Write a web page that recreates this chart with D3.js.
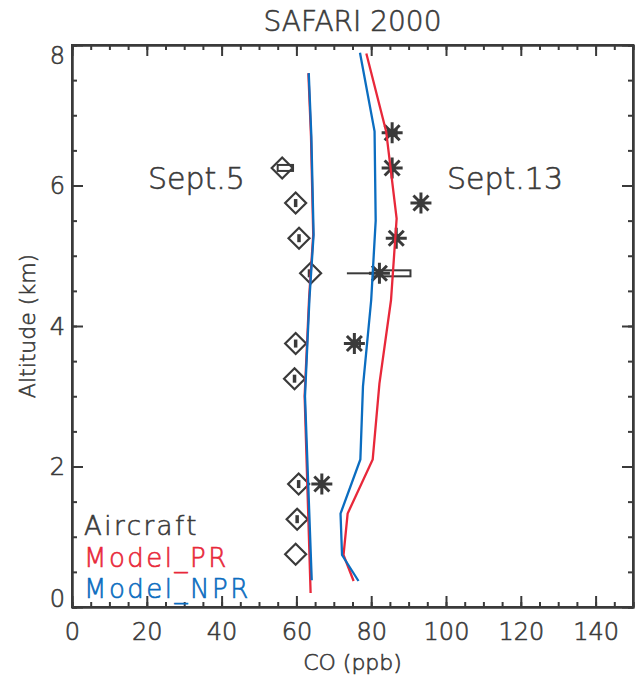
<!DOCTYPE html>
<meta charset="utf-8">
<style>
body { margin: 0; background: #fff; }
text { font-family: "DejaVu Sans", sans-serif; fill: #3a3a3a; font-weight: 300; stroke-width: 0.6px; }
.axis path, .axis line { stroke: #3a3a3a; stroke-width: 2px; }
.axis text { font-size: 24px; fill: #3a3a3a; stroke: #3a3a3a; font-family: "DejaVu Sans", sans-serif; font-weight: 300; }
.model { fill: none; stroke-width: 2.3px; }
.mark { fill: none; stroke: #3a3a3a; }
</style>
<body>
<script src="https://d3js.org/d3.v7.min.js"></script>
<script>

// Aircraft, Sept.5 (diamonds): altitude (km), mean CO, box low/high (ppb)
var alt5 = [6.25, 5.75, 5.25, 4.75, 3.75, 3.25, 1.75, 1.25, 0.75];
var co5 = [56.2, 59.8, 60.7, 63.8, 59.8, 59.5, 60.6, 60.2, 59.8];
var boxLo5 = [55.0, 59.6, 60.5, 63.3, 59.6, 59.3, 60.4, 60.0, 59.8];
var boxHi5 = [59.1, 60.0, 60.9, 63.6, 60.0, 59.7, 60.8, 60.4, 59.8];

// Aircraft, Sept.13 (stars)
var alt13 = [6.75, 6.25, 5.75, 5.25, 4.75, 3.75, 1.75];
var co13 = [85.6, 85.6, 93.3, 86.7, 82.2, 75.5, 66.8];
var boxLo13 = [84.5, 85.2, 93.0, 86.0, 80.5, 75.0, 66.6];
var boxHi13 = [86.8, 86.0, 93.6, 87.4, 90.5, 77.0, 67.0];
var whLo13 = [84.5, 85.2, 93.0, 86.0, 73.5, 75.0, 66.6];
var whHi13 = [86.8, 86.0, 93.6, 87.4, 90.5, 77.0, 67.0];

// Model profiles
var altPR5 = [0.2, 3.0, 4.4, 5.3, 6.7, 7.6];
var coPR5 = [63.8, 62.2, 63.4, 64.5, 63.9, 63.2];
var altNPR5 = [0.38, 3.0, 4.4, 5.3, 6.7, 7.6];
var coNPR5 = [64.1, 62.3, 63.5, 64.6, 64.0, 63.3];

var altPR13 = [0.37, 0.74, 1.33, 2.1, 3.18, 4.37, 5.53, 6.77, 7.88];
var coPR13 = [75.3, 72.6, 73.7, 80.4, 82.2, 85.3, 86.8, 84.0, 78.7];
var altNPR13 = [0.37, 0.74, 1.33, 2.1, 3.14, 4.37, 5.5, 6.77, 7.89];
var coNPR13 = [76.6, 72.2, 71.8, 77.1, 77.8, 80.0, 81.2, 80.9, 77.0];

var xMajor = [0, 20, 40, 60, 80, 100, 120, 140];
var yMajor = [0, 2, 4, 6, 8];

var red = "#e8283a", blue = "#0b6dc0", ink = "#3a3a3a";

var W = 635, H = 676;
var margin = {top: 45, right: 2, bottom: 69, left: 72};

var x = d3.scaleLinear().domain([0, 150]).range([margin.left, W - margin.right]);
var y = d3.scaleLinear().domain([0, 8]).range([H - margin.bottom, margin.top]);

var svg = d3.select("body").append("svg")
    .attr("width", W)
    .attr("height", H);

// minor ticks
var xMinor = d3.range(0, 151, 5), yMinor = d3.range(0, 8.01, 0.5);
svg.append("g").attr("class", "axis")
  .attr("transform", "translate(0," + y(0) + ")")
  .call(d3.axisBottom(x).tickValues(xMinor).tickSize(-5).tickFormat(""));
svg.append("g").attr("class", "axis")
  .attr("transform", "translate(0," + y(8) + ")")
  .call(d3.axisTop(x).tickValues(xMinor).tickSize(-5).tickFormat(""));
svg.append("g").attr("class", "axis")
  .attr("transform", "translate(" + x(0) + ",0)")
  .call(d3.axisLeft(y).tickValues(yMinor).tickSize(-5).tickFormat(""));
svg.append("g").attr("class", "axis")
  .attr("transform", "translate(" + x(150) + ",0)")
  .call(d3.axisRight(y).tickValues(yMinor).tickSize(-5).tickFormat(""));

// major ticks
svg.append("g").attr("class", "axis")
  .attr("transform", "translate(0," + y(0) + ")")
  .call(d3.axisBottom(x).tickValues(xMajor).tickSize(-11).tickPadding(16).tickSizeOuter(0));
svg.append("g").attr("class", "axis")
  .attr("transform", "translate(0," + y(8) + ")")
  .call(d3.axisTop(x).tickValues(xMajor).tickSize(-11).tickFormat("").tickSizeOuter(0));
var gy = svg.append("g").attr("class", "axis")
  .attr("transform", "translate(" + x(0) + ",0)")
  .call(d3.axisLeft(y).tickValues(yMajor).tickSize(-11).tickPadding(7).tickSizeOuter(0));
svg.append("g").attr("class", "axis")
  .attr("transform", "translate(" + x(150) + ",0)")
  .call(d3.axisRight(y).tickValues(yMajor).tickSize(-11).tickFormat("").tickSizeOuter(0));

// keep end labels inside the frame, like the original
gy.selectAll(".tick text").attr("dy", function(d) {
  return d == 8 ? "0.75em" : d == 0 ? "-0.02em" : "0.35em";
});

// frame
svg.append("rect")
  .attr("x", x(0)).attr("y", y(8))
  .attr("width", x(150) - x(0)).attr("height", y(0) - y(8))
  .attr("fill", "none").attr("stroke", ink).attr("stroke-width", 2);

// aircraft boxes and whiskers
var d5 = alt5.map(function(a, i) { return {alt: a, co: co5[i], lo: boxLo5[i], hi: boxHi5[i], wl: boxLo5[i], wh: boxHi5[i]}; });
var d13 = alt13.map(function(a, i) { return {alt: a, co: co13[i], lo: boxLo13[i], hi: boxHi13[i], wl: whLo13[i], wh: whHi13[i]}; });

function boxes(data) {
  var g = svg.append("g");
  g.selectAll("line.wl").data(data).enter().append("line")
    .attr("class", "mark").attr("stroke-width", 2)
    .attr("x1", function(d) { return x(d.wl); }).attr("x2", function(d) { return x(d.lo); })
    .attr("y1", function(d) { return y(d.alt); }).attr("y2", function(d) { return y(d.alt); });
  g.selectAll("line.wh").data(data).enter().append("line")
    .attr("class", "mark").attr("stroke-width", 2)
    .attr("x1", function(d) { return x(d.hi); }).attr("x2", function(d) { return x(d.wh); })
    .attr("y1", function(d) { return y(d.alt); }).attr("y2", function(d) { return y(d.alt); });
  g.selectAll("rect").data(data.filter(function(d) { return d.hi > d.lo; })).enter().append("rect")
    .attr("class", "mark").attr("stroke-width", 2)
    .attr("x", function(d) { return x(d.lo); })
    .attr("width", function(d) { return x(d.hi) - x(d.lo); })
    .attr("y", function(d) { return y(d.alt) - 3; })
    .attr("height", 6);
}
boxes(d5);
boxes(d13);

// diamonds
svg.append("g").selectAll("path").data(d5).enter().append("path")
  .attr("class", "mark").attr("stroke-width", 2.2)
  .attr("d", "M0,-10.5L10.5,0L0,10.5L-10.5,0Z")
  .attr("transform", function(d) { return "translate(" + x(d.co) + "," + y(d.alt) + ")"; });

// asterisks
svg.append("g").selectAll("path").data(d13).enter().append("path")
  .attr("class", "mark").attr("stroke-width", 3)
  .attr("d", "M-10.5,0H10.5M0,-10.5V10.5M-7.5,-7.5L7.5,7.5M-7.5,7.5L7.5,-7.5")
  .attr("transform", function(d) { return "translate(" + x(d.co) + "," + y(d.alt) + ")"; });

// model lines
var line = d3.line().x(function(d) { return x(d[0]); }).y(function(d) { return y(d[1]); });
function profile(co, alt, col) {
  svg.append("path").attr("class", "model")
    .attr("stroke", col)
    .attr("d", line(co.map(function(c, i) { return [c, alt[i]]; })));
}
profile(coPR5, altPR5, red);
profile(coPR13, altPR13, red);
profile(coNPR5, altNPR5, blue);
profile(coNPR13, altNPR13, blue);

// titles
svg.append("text").attr("x", (x(0) + x(150)) / 2).attr("y", 31)
  .attr("text-anchor", "middle").style("font-size", "28px").style("stroke", ink)
  .text("SAFARI 2000");
svg.append("text").attr("x", (x(0) + x(150)) / 2).attr("y", 670)
  .attr("text-anchor", "middle").style("font-size", "22px").style("stroke", ink)
  .text("CO (ppb)");
svg.append("text").attr("transform", "translate(35," + y(4) + ") rotate(-90)")
  .attr("text-anchor", "middle").style("font-size", "22px").style("stroke", ink)
  .text("Altitude (km)");

// annotations
svg.append("text").attr("x", 148).attr("y", 189)
  .style("font-size", "30px").style("stroke", ink).text("Sept.5");
svg.append("text").attr("x", 447).attr("y", 189)
  .style("font-size", "30px").style("stroke", ink).text("Sept.13");

// legend
var legendNames = ["Aircraft", "Model_PR", "Model_NPR"];
var legendColors = [ink, red, blue];
svg.append("g").selectAll("text").data(legendNames).enter().append("text")
  .attr("x", 84)
  .attr("y", function(d, i) { return 535 + i * 31.5; })
  .style("font-size", "26px")
  .style("letter-spacing", "2.5px")
  .style("fill", function(d, i) { return legendColors[i]; })
  .style("stroke", function(d, i) { return legendColors[i]; })
  .text(function(d) { return d; });

</script>
</body>
</html>
